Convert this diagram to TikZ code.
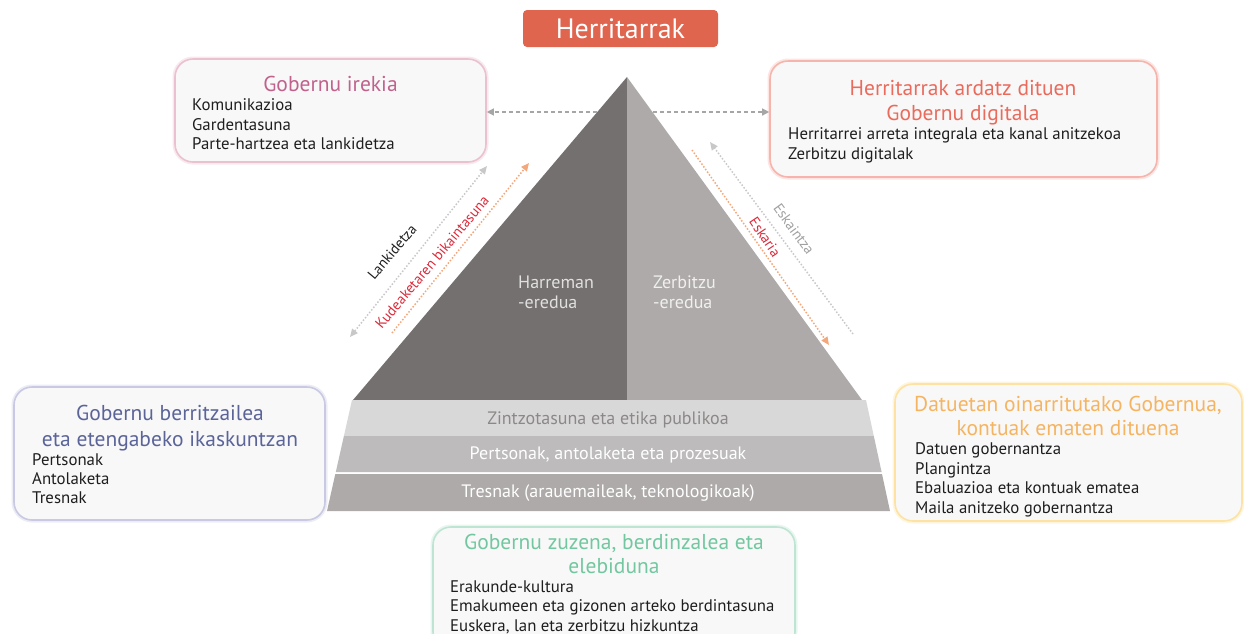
\documentclass[tikz,border=0pt]{standalone}
\usepackage{fontspec}
\setmainfont{PT Sans}
\usetikzlibrary{arrows.meta}
\definecolor{pdark}{HTML}{74706F}
\definecolor{plight}{HTML}{AEAAA9}
\definecolor{bandA}{HTML}{D9D8D8}
\definecolor{bandB}{HTML}{BDBBBB}
\definecolor{bandC}{HTML}{AEAAA9}
\definecolor{bandAtext}{HTML}{8C8888}
\definecolor{coral}{HTML}{E0654F}
\definecolor{boxfill}{HTML}{F8F8F8}
\definecolor{tPink}{HTML}{C0628C}
\definecolor{tSalmon}{HTML}{EA6A5C}
\definecolor{tSlate}{HTML}{5B6499}
\definecolor{tOrange}{HTML}{F5B461}
\definecolor{tMint}{HTML}{72C7A0}
\definecolor{bPink}{HTML}{EBC0D0}
\definecolor{bSalmon}{HTML}{F5B5AC}
\definecolor{bLav}{HTML}{C9C9E3}
\definecolor{bYellow}{HTML}{FDE2A4}
\definecolor{bMint}{HTML}{BEE5D4}
\definecolor{arrGray}{HTML}{A6A6A6}
\definecolor{dotGray}{HTML}{C8C8C8}
\definecolor{dotOrange}{HTML}{F4A77A}
\definecolor{lblRed}{HTML}{D92A3A}
\definecolor{lblGray}{HTML}{A0A0A0}
\definecolor{txt}{HTML}{1E1E1E}
\begin{document}
\begin{tikzpicture}[x=1pt,y=-1pt,
  panel/.style={draw=#1, line width=1.6pt, fill=boxfill, rounded corners=18pt, inner sep=0pt,
    preaction={draw=#1, line width=5pt, opacity=0.35}},
  ptitle/.style={font=\fontsize{21.5}{25}\selectfont, align=center, text=#1, anchor=north, inner sep=0pt},
  pitems/.style={font=\fontsize{16.8}{19.5}\selectfont, align=left, text=txt, anchor=north west, inner sep=0pt},
  bandtext/.style={font=\fontsize{18}{20}\selectfont, inner sep=0pt},
  dashlink/.style={draw=arrGray, line width=1.3pt, dash pattern=on 4pt off 3pt, -{Triangle[length=7pt,width=7pt]}},
  dotlink/.style={draw=#1, line width=1.5pt, dash pattern=on 1.5pt off 1.8pt},
  diaglbl/.style={font=\fontsize{14.5}{16}\selectfont, inner sep=0pt, text=#1}
]
\useasboundingbox (0,0) rectangle (1244,633);
\clip (0,0) rectangle (1244,633);

% top label
\node[fill=coral, rounded corners=4pt, minimum width=195pt, minimum height=37pt, inner sep=0pt,
  text=white, font=\fontsize{28}{30}\selectfont] (herri) at (620.5,28.5) {Herritarrak};

% pyramid
\fill[pdark] (627,77) -- (627,400) -- (353,400) -- cycle;
\fill[plight] (627,77) -- (862,400) -- (627,400) -- cycle;
\coordinate (apexL) at (597,112);
\coordinate (apexR) at (653,112);
\node[font=\fontsize{18}{20}\selectfont, text=white!88!black, align=left, anchor=north west, inner sep=0pt] (harr) at (518,276) {Harreman\\-eredua};
\node[font=\fontsize{18}{20}\selectfont, text=white!94!black, align=left, anchor=north west, inner sep=0pt] (zerb) at (653,276) {Zerbitzu\\-eredua};

% bands
\fill[bandA] (352,400) -- (866,400) -- (873.8,436) -- (343.9,436) -- cycle;
\fill[bandB] (343.9,436) -- (873.8,436) -- (881.6,472) -- (335.8,472) -- cycle;
\fill[bandC] (335.3,474) -- (882,474) -- (890,511) -- (327,511) -- cycle;
\node[bandtext, text=bandAtext] (b1) at (608,420) {Zintzotasuna eta etika publikoa};
\node[bandtext, text=white] (b2) at (608,455) {Pertsonak, antolaketa eta prozesuak};
\node[bandtext, text=white] (b3) at (608,493) {Tresnak (arauemaileak, teknologikoak)};

% panels
\node[panel=bPink, minimum width=311pt, minimum height=103pt] (gi) at (330.5,110.5) {};
\node[ptitle=tPink] (giT) at (330.5,76) {Gobernu irekia};
\node[pitems] (giI) at (192,98.5) {Komunikazioa\\Gardentasuna\\Parte-hartzea eta lankidetza};

\node[panel=bSalmon, minimum width=387pt, minimum height=116pt] (hd) at (963.5,119) {};
\node[ptitle=tSalmon] (hdT) at (963,80) {Herritarrak ardatz dituen\\Gobernu digitala};
\node[pitems] (hdI) at (788,127.5) {Herritarrei arreta integrala eta kanal anitzekoa\\Zerbitzu digitalak};

\node[panel=bLav, minimum width=311pt, minimum height=133pt] (gb) at (169.5,453.5) {};
\node[ptitle=tSlate, font=\fontsize{21.5}{26}\selectfont] (gbT) at (170,405) {Gobernu berritzailea\\eta etengabeko ikaskuntzan};
\node[pitems, font=\fontsize{16.8}{19}\selectfont] (gbI) at (32,453.5) {Pertsonak\\Antolaketa\\Tresnak};

\node[panel=bYellow, minimum width=347pt, minimum height=137pt] (dg) at (1068.5,452.5) {};
\node[ptitle=tOrange, font=\fontsize{21.5}{24}\selectfont] (dgT) at (1068,396) {Datuetan oinarritutako Gobernua,\\kontuak ematen dituena};
\node[pitems] (dgI) at (915,442.5) {Datuen gobernantza\\Plangintza\\Ebaluazioa eta kontuak ematea\\Maila anitzeko gobernantza};

\node[panel=bMint, minimum width=362pt, minimum height=123pt] (gz) at (614,588.5) {};
\node[ptitle=tMint, font=\fontsize{21.5}{24}\selectfont] (gzT) at (614,534) {Gobernu zuzena, berdinzalea eta\\elebiduna};
\node[pitems] (gzI) at (450,580.5) {Erakunde-kultura\\Emakumeen eta gizonen arteko berdintasuna\\Euskera, lan eta zerbitzu hizkuntza};

% horizontal dashed links
\draw[dashlink] (apexL) -- (apexL -| gi.east);
\draw[dashlink] (apexR) -- (apexR -| hd.west);

% diagonal dotted arrows
\coordinate (lkA) at (350,337);
\coordinate (lkB) at (487,166);
\coordinate (kuA) at (392,333);
\coordinate (kuB) at (529,163);
\coordinate (esA) at (692,150);
\coordinate (esB) at (829,345);
\coordinate (eiA) at (853,334);
\coordinate (eiB) at (710,142);
\draw[dotlink=dotGray, {Triangle[length=8pt,width=7pt]}-{Triangle[length=8pt,width=7pt]}] (lkA) -- (lkB);
\draw[dotlink=dotOrange, -{Triangle[length=8pt,width=7pt]}] (kuA) -- (kuB);
\draw[dotlink=dotOrange, -{Triangle[length=8pt,width=7pt]}] (esA) -- (esB);
\draw[dotlink=dotGray, -{Triangle[length=8pt,width=7pt]}] (eiA) -- (eiB);

\node[diaglbl=txt, rotate=50] (lkL) at (392,252) {Lankidetza};
\node[diaglbl=lblRed, rotate=50] (kuL) at (432,262) {Kudeaketaren bikaintasuna};
\node[diaglbl=lblRed, rotate=-56] (esL) at (765,237) {Eskaria};
\node[diaglbl=lblGray, rotate=-54] (eiL) at (794,229) {Eskaintza};
\end{tikzpicture}
\end{document}
